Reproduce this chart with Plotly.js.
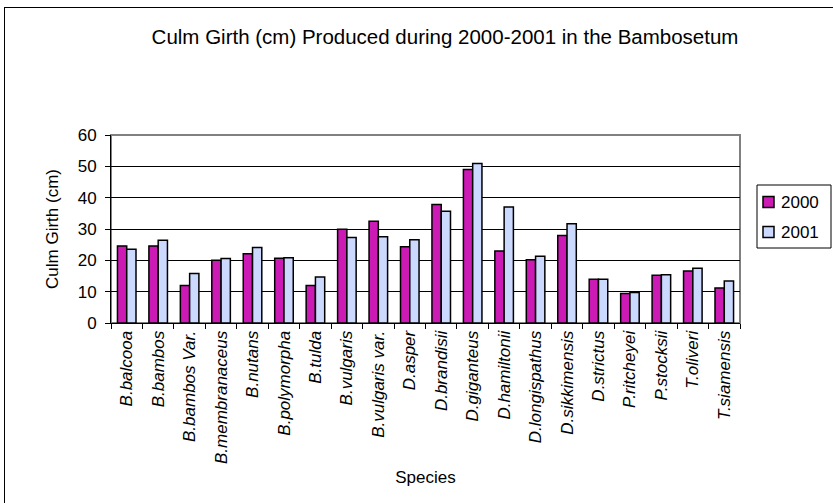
<!DOCTYPE html>
<html>
<head>
<meta charset="utf-8">
<script src="https://cdn.plot.ly/plotly-3.0.1.min.js"></script>
<style>
html,body{margin:0;padding:0;background:#fff;overflow:hidden;}
#wrap{position:relative;width:833px;height:503px;overflow:hidden;}
#chart{position:absolute;left:0;top:0;width:833px;height:503px;}
#frame{position:absolute;left:4px;top:7px;width:900px;height:600px;border:1px solid #000;pointer-events:none;}
</style>
</head>
<body>
<div id="wrap"><div id="chart"></div><div id="frame"></div></div>
<script>
const species = ["B.balcooa","B.bambos","B.bambos Var.","B.membranaceus","B.nutans","B.polymorpha","B.tulda","B.vulgaris","B.vulgaris var.","D.asper","D.brandisii","D.giganteus","D.hamiltonii","D.longispathus","D.sikkimensis","D.strictus","P.ritcheyei","P.stocksii","T.oliveri","T.siamensis"];
const girth2000 = [24.6,24.6,12.0,20.0,22.1,20.7,12.0,29.9,32.5,24.3,37.8,49.0,23.0,20.2,27.9,14.0,9.4,15.2,16.6,11.2];
const girth2001 = [23.5,26.4,15.8,20.6,24.1,20.8,14.7,27.3,27.5,26.6,35.7,50.9,37.0,21.3,31.7,14.0,9.7,15.4,17.5,13.4];
const seriesNames = ["2000","2001"];
const seriesColors = ["#CC1AB5","#CCD9FF"];
const yTicks = [0,10,20,30,40,50,60];

const font = "Liberation Sans, Arial, sans-serif";
const W = 833, H = 503, L = 111, R = 93, T = 135, B = 180;
const pw = W - L - R, ph = H - T - B;
const px = x => (x - L) / pw;          // pixel -> paper x
const py = y => (H - B - y) / ph;       // pixel -> paper y

const traces = [girth2000, girth2001].map((vals, i) => ({
  type:"bar", name:seriesNames[i], x:species, y:vals, showlegend:false,
  marker:{color:seriesColors[i], line:{color:"#000", width:1.5}}
}));

// legend box drawn as shapes/annotations (Excel-style compact legend)
const shapes = [
  {type:"rect", xref:"paper", yref:"paper", x0:0, x1:1, y0:0, y1:1,
   line:{color:"#808080", width:2}, layer:"below"},
  {type:"rect", xref:"paper", yref:"paper", x0:px(757), x1:px(831), y0:py(248), y1:py(185),
   line:{color:"#000", width:1}, fillcolor:"#fff"}
];
const annotations = [];
seriesNames.forEach((n, i) => {
  const cy = 202 + i * 30;
  shapes.push({type:"rect", xref:"paper", yref:"paper", x0:px(763), x1:px(774), y0:py(cy+5.5), y1:py(cy-5.5),
    line:{color:"#000", width:1.5}, fillcolor:seriesColors[i]});
  annotations.push({xref:"paper", yref:"paper", x:px(779), y:py(cy), xanchor:"left", yanchor:"middle",
    text:n, showarrow:false, font:{family:font, size:17, color:"#000"}});
});

const layout = {
  width:W, height:H,
  margin:{l:L, r:R, t:T, b:B, pad:0},
  paper_bgcolor:"rgba(0,0,0,0)", plot_bgcolor:"#fff",
  font:{family:font, size:17, color:"#000"},
  title:{text:"Culm Girth (cm) Produced during 2000-2001 in the Bambosetum",
         font:{family:font, size:20.5, color:"#000"}, x:445/W, xanchor:"center", y:1-37/H, yanchor:"middle"},
  barmode:"group", bargap:0.41, bargroupgap:0,
  xaxis:{type:"category", showgrid:false, showline:true, linecolor:"#000", linewidth:1,
         ticks:"outside", tickson:"boundaries", ticklen:5, tickcolor:"#000",
         tickangle:-90, tickfont:{family:font, size:17, style:"italic"},
         title:{text:"Species", font:{family:font, size:17}, standoff:8}},
  yaxis:{range:[0,60], tickvals:yTicks, ticktext:yTicks.map(String), showgrid:true, gridcolor:"#000", gridwidth:1,
         showline:true, linecolor:"#000", linewidth:1, ticks:"outside", ticklen:5, tickcolor:"#000",
         ticklabelstandoff:5,
         zeroline:false, tickfont:{family:font, size:17},
         title:{text:"Culm Girth (cm)", font:{family:font, size:17}, standoff:14}},
  shapes:shapes, annotations:annotations,
  showlegend:false
};
Plotly.newPlot("chart", traces, layout, {displayModeBar:false, staticPlot:true});
</script>
</body>
</html>
